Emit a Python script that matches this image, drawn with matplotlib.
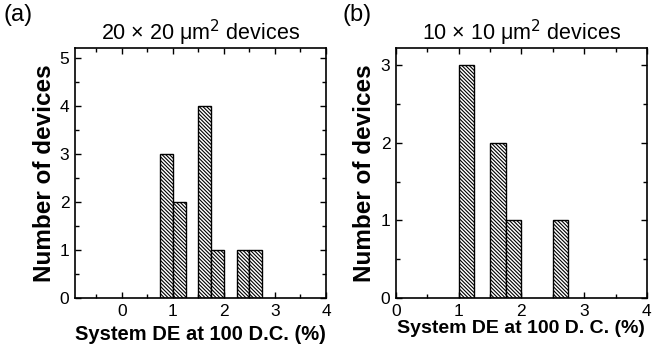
import matplotlib
matplotlib.use('Agg')
import matplotlib.pyplot as plt
from matplotlib.ticker import MultipleLocator

plt.rcParams['font.family'] = ['Liberation Sans', 'DejaVu Sans']
plt.rcParams['hatch.linewidth'] = 0.8

# bin left edges (%) and counts
a_edges = [0.75, 1.0, 1.5, 1.75, 2.25, 2.5]
a_counts = [3, 2, 4, 1, 1, 1]
b_edges = [1.0, 1.5, 1.75, 2.5]
b_counts = [3, 2, 1, 1]
bin_width = 0.25

fig = plt.figure(figsize=(6.61, 3.55), dpi=100)
ax1 = fig.add_axes([0.1135, 0.1606, 0.3797, 0.704])
ax2 = fig.add_axes([0.599, 0.1606, 0.3797, 0.704])


def style(ax, xlim, ylim):
    ax.set_xlim(*xlim)
    ax.set_ylim(*ylim)
    ax.xaxis.set_major_locator(MultipleLocator(1))
    ax.xaxis.set_minor_locator(MultipleLocator(0.5))
    ax.yaxis.set_major_locator(MultipleLocator(1))
    ax.yaxis.set_minor_locator(MultipleLocator(0.5))
    ax.tick_params(which='both', direction='in', top=True, right=True, labelsize=12.5, width=1)
    ax.tick_params(which='major', length=4, pad=4)
    ax.tick_params(which='minor', length=3)
    for s in ax.spines.values():
        s.set_linewidth(1.2)
    ax.set_ylabel('Number of devices', fontsize=17.5, fontweight='bold', labelpad=3)


ax1.bar(a_edges, a_counts, width=bin_width, align='edge', facecolor='white',
        edgecolor='black', hatch='\\' * 9, linewidth=1)
style(ax1, (-0.92, 4), (0, 5.2))
ax1.set_xlabel('System DE at 100 D.C. (%)', fontsize=14.5, fontweight='bold', labelpad=5)
ax1.set_title('20 \u00d7 20 \u03bcm$^2$ devices', fontsize=15.5, pad=5)
fig.text(0.005, 0.99, '(a)', fontsize=17, va='top', ha='left')

ax2.bar(b_edges, b_counts, width=bin_width, align='edge', facecolor='white',
        edgecolor='black', hatch='\\' * 9, linewidth=1)
style(ax2, (0, 4), (0, 3.22))
ax2.set_xlabel('System DE at 100 D. C. (%)', fontsize=14, fontweight='bold', labelpad=1)
ax2.set_title('10 \u00d7 10 \u03bcm$^2$ devices', fontsize=15.5, pad=5)
fig.text(0.518, 0.99, '(b)', fontsize=17, va='top', ha='left')

fig.savefig('out.png', dpi=100)
